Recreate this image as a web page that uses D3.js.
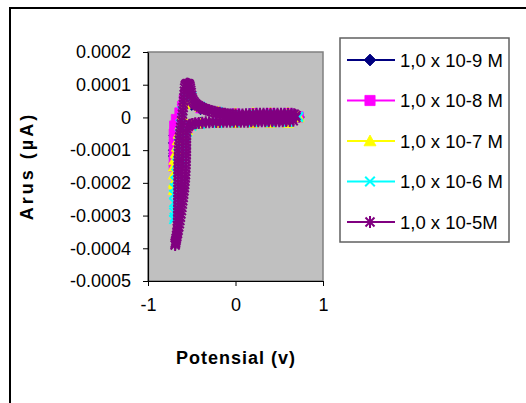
<!DOCTYPE html>
<html><head><meta charset="utf-8">
<script src="https://cdn.jsdelivr.net/npm/d3@7"></script>
<style>body{margin:0;background:#fff}svg{display:block}</style>
</head><body><svg id="c" width="526" height="403"></svg>
<script>
// ---- data (potential in V; current in units of 1e-6 of the axis unit) ----
const seriesNames = ["1,0 x 10-9 M", "1,0 x 10-8 M", "1,0 x 10-7 M", "1,0 x 10-6 M", "1,0 x 10-5M"];
const seriesColors = ["#000080", "#FF00FF", "#FFFF00", "#00FFFF", "#800080"];
const seriesMarkers = ["diamond", "square", "triangle", "x", "asterisk"];

const potential1 = [0.72,0.6,0.4,0.2,0.0,-0.2,-0.4,-0.5,-0.55,-0.6,-0.64,-0.68,-0.70,-0.705,-0.705,-0.705,-0.70,-0.68,-0.65,-0.62,-0.6,-0.56,-0.5,-0.4,-0.2,0.0,0.2,0.4,0.6,0.72];
const current1   = [0,-12,-13,-14,-14,-15,-17,-22,-30,-45,-65,-90,-110,-118,-100,-78,-55,-30,-5,20,40,50,38,25,14,11,12,12,12,2];

const potential2 = [0.72,0.6,0.4,0.2,0.0,-0.2,-0.4,-0.5,-0.55,-0.6,-0.64,-0.68,-0.70,-0.705,-0.705,-0.705,-0.705,-0.705,-0.70,-0.68,-0.64,-0.61,-0.59,-0.57,-0.55,-0.5,-0.4,-0.2,0.0,0.2,0.4,0.6,0.72];
const current2   = [0,-13,-14,-15,-15,-16,-18,-24,-35,-55,-80,-110,-135,-150,-135,-110,-80,-50,-25,-5,15,35,55,65,60,45,28,16,12,13,13,13,3];

const potential3 = [0.72,0.6,0.4,0.2,0.0,-0.2,-0.4,-0.5,-0.55,-0.58,-0.62,-0.66,-0.685,-0.70,-0.705,-0.705,-0.705,-0.705,-0.70,-0.685,-0.67,-0.66,-0.65,-0.63,-0.61,-0.58,-0.54,-0.5,-0.4,-0.2,0.0,0.2,0.4,0.6,0.72];
const current3   = [0,-17,-17,-17,-17,-17,-19,-25,-40,-60,-100,-140,-175,-205,-222,-200,-175,-150,-130,-110,-90,-70,-50,-25,5,40,75,55,32,18,13,14,14,14,3];

const potential4 = [0.72,0.6,0.4,0.2,0.0,-0.2,-0.4,-0.5,-0.55,-0.57,-0.6,-0.63,-0.66,-0.685,-0.70,-0.705,-0.705,-0.705,-0.705,-0.70,-0.69,-0.68,-0.67,-0.66,-0.65,-0.64,-0.63,-0.61,-0.58,-0.55,-0.5,-0.4,-0.2,0.0,0.2,0.4,0.6,0.72];
const current4   = [0,-15,-16,-16,-17,-18,-21,-27,-45,-80,-140,-200,-250,-285,-305,-312,-290,-260,-235,-215,-195,-170,-140,-110,-80,-50,-20,20,60,85,65,34,18,12,13,13,13,3];

const potential5 = [
  0.69,0.66,0.62,0.58,0.54,0.50,0.46,0.42,0.38,0.34,0.30,0.26,0.22,0.18,0.14,0.10,0.06,0.02,-0.02,-0.06,-0.10,-0.14,-0.18,-0.22,-0.26,-0.30,-0.34,-0.38,-0.42,-0.46,-0.49,-0.52,-0.54,
  -0.555,-0.56,-0.562,-0.563,-0.563,-0.563,-0.563,-0.563,-0.564,-0.565,-0.566,-0.567,-0.568,-0.57,-0.572,-0.575,-0.578,-0.581,-0.585,-0.589,-0.593,-0.598,-0.603,-0.608,-0.613,-0.618,-0.624,-0.63,-0.636,-0.642,-0.649,-0.656,-0.663,-0.671,-0.679,-0.686,
  -0.69,-0.688,-0.684,-0.678,-0.672,-0.668,-0.665,-0.663,-0.661,-0.66,-0.659,-0.658,-0.658,-0.657,-0.657,-0.656,-0.656,-0.656,-0.656,-0.655,-0.655,-0.655,-0.655,-0.655,-0.655,-0.654,-0.654,-0.653,-0.652,-0.651,-0.65,-0.648,-0.645,-0.642,-0.638,-0.634,-0.63,-0.625,-0.62,-0.615,-0.61,-0.606,-0.602,-0.598,-0.595,-0.592,-0.589,-0.586,-0.583,-0.58,
  -0.575,-0.565,-0.555,-0.545,-0.535,-0.528,-0.522,-0.517,-0.512,-0.507,-0.502,-0.497,-0.49,-0.48,-0.47,-0.455,-0.44,-0.42,-0.40,-0.38,-0.36,-0.34,-0.32,-0.30,-0.27,-0.24,-0.21,-0.18,-0.15,-0.12,-0.09,-0.06,-0.03,0.00,0.04,0.08,0.12,0.16,0.20,0.24,0.28,0.32,0.36,0.40,0.44,0.48,0.52,0.56,0.60,0.64,0.67,0.69];
const current5 = [
  0,-10,-11,-11,-12,-12,-12,-12,-12,-12,-12,-12,-12,-12,-13,-13,-13,-13,-13,-13,-13,-13,-14,-14,-14,-15,-15,-16,-17,-18,-20,-22,-27,
  -35,-45,-55,-65,-75,-85,-95,-105,-115,-125,-135,-145,-155,-165,-175,-185,-195,-205,-215,-225,-235,-245,-255,-265,-275,-285,-295,-305,-315,-325,-335,-345,-355,-365,-375,-383,
  -390,-385,-378,-370,-360,-350,-340,-330,-320,-310,-300,-290,-280,-270,-260,-250,-240,-230,-220,-210,-200,-190,-180,-170,-160,-150,-140,-130,-120,-110,-100,-90,-80,-70,-60,-50,-40,-30,-20,-10,0,10,20,30,40,50,60,70,80,90,
  97,101,103,103,102,100,96,90,83,76,68,60,54,49,45,41,38,35,32,29,27,25,23,21,19,17,15,14,12,11,10,9,9,9,9,9,10,10,10,11,11,11,11,11,11,11,11,11,11,11,10,6];

const xTickValues = [-1, 0, 1];
const xTickLabels = ["-1", "0", "1"];
const yTickValues = [200, 100, 0, -100, -200, -300, -400, -500];
const yTickLabels = ["0.0002", "0.0001", "0", "-0.0001", "-0.0002", "-0.0003", "-0.0004", "-0.0005"];
const xTitle = "Potensial (v)";
const yTitle = "Arus (\u00b5A)";

const allPotentials = [potential1, potential2, potential3, potential4, potential5];
const allCurrents = [current1, current2, current3, current4, current5];

// ---- drawing ----
const FONT = '"Liberation Sans", Arial, Helvetica, sans-serif';
const svg = d3.select("#c");

svg.append("rect").attr("x", 10).attr("y", 8).attr("width", 600).attr("height", 500)
  .attr("fill", "#fff").attr("stroke", "#000").attr("stroke-width", 2);

const x = d3.scaleLinear().domain([-1, 1]).range([148, 323]);
const y = d3.scaleLinear().domain([-500, 200]).range([281, 52]);

svg.append("rect").attr("x", 148).attr("y", 52).attr("width", 175).attr("height", 229)
  .attr("fill", "#C0C0C0").attr("stroke", "#808080").attr("stroke-width", 1.5);

const yAxis = svg.append("g").attr("transform", "translate(148,0)")
  .call(d3.axisLeft(y).tickValues(yTickValues).tickFormat((d, i) => yTickLabels[i]).tickSize(5).tickSizeOuter(0).tickPadding(12));
const xAxis = svg.append("g").attr("transform", "translate(0,281)")
  .call(d3.axisBottom(x).tickValues(xTickValues).tickFormat((d, i) => xTickLabels[i]).tickSize(5).tickSizeOuter(0).tickPadding(12));
[yAxis, xAxis].forEach(g => {
  g.selectAll("path.domain").attr("stroke", "#000").attr("stroke-width", 1.2);
  g.selectAll(".tick line").attr("stroke", "#000");
  g.selectAll("text").attr("font-family", FONT).attr("font-size", 18).attr("fill", "#000");
});

function markerPath(type, r) {
  switch (type) {
    case "diamond": return `M0,${-r}L${r},0L0,${r}L${-r},0Z`;
    case "square": { const s = r * 0.85; return `M${-s},${-s}H${s}V${s}H${-s}Z`; }
    case "triangle": return `M0,${-r}L${r},${r * 0.8}L${-r},${r * 0.8}Z`;
    case "x": { const s = r * 0.8; return `M${-s},${-s}L${s},${s}M${-s},${s}L${s},${-s}`; }
    case "asterisk": { const s = r * 0.75; return `M0,${-r}V${r}M${-s},${-s}L${s},${s}M${-s},${s}L${s},${-s}`; }
  }
}
function styleMarker(sel, i) {
  const filled = i < 3;
  sel.attr("fill", filled ? seriesColors[i] : "none")
     .attr("stroke", seriesColors[i])
     .attr("stroke-width", filled ? 0.8 : 2);
}

const line = d3.line().x(d => x(d[0])).y(d => y(d[1]));
const plot = svg.append("g");
allPotentials.forEach((pots, i) => {
  const pts = pots.map((p, k) => [p, allCurrents[i][k]]);
  const g = plot.append("g");
  g.append("path").datum(pts).attr("d", line).attr("fill", "none")
    .attr("stroke", seriesColors[i]).attr("stroke-width", 2);
  g.selectAll("path.m").data(pts).join("path").attr("class", "m")
    .attr("transform", d => `translate(${x(d[0])},${y(d[1])})`)
    .attr("d", markerPath(seriesMarkers[i], i === 4 ? 6 : 5.5))
    .call(styleMarker, i);
});

// axis titles
svg.append("text").attr("x", 236).attr("y", 364).attr("text-anchor", "middle")
  .attr("font-family", FONT).attr("font-weight", "bold").attr("font-size", 18)
  .attr("letter-spacing", 1).text(xTitle);
svg.append("text").attr("transform", "translate(33,166) rotate(-90)").attr("text-anchor", "middle")
  .attr("font-family", FONT).attr("font-weight", "bold").attr("font-size", 18)
  .attr("letter-spacing", 3).text(yTitle);

// legend
const lg = svg.append("g");
lg.append("rect").attr("x", 340).attr("y", 38).attr("width", 169).attr("height", 204)
  .attr("fill", "#fff").attr("stroke", "#606060").attr("stroke-width", 1.5);
const legendY = d3.scalePoint().domain(d3.range(seriesNames.length)).range([60, 222]);
seriesNames.forEach((name, i) => {
  const ly = legendY(i);
  lg.append("line").attr("x1", 347).attr("x2", 395).attr("y1", ly).attr("y2", ly)
    .attr("stroke", seriesColors[i]).attr("stroke-width", 2);
  lg.append("path").attr("transform", `translate(370,${ly})`).attr("d", markerPath(seriesMarkers[i], 6))
    .call(styleMarker, i);
  lg.append("text").attr("x", 400).attr("y", ly).attr("dy", "0.36em")
    .attr("font-family", FONT).attr("font-size", 18.5).attr("fill", "#000").text(name);
});
</script>
</body></html>
